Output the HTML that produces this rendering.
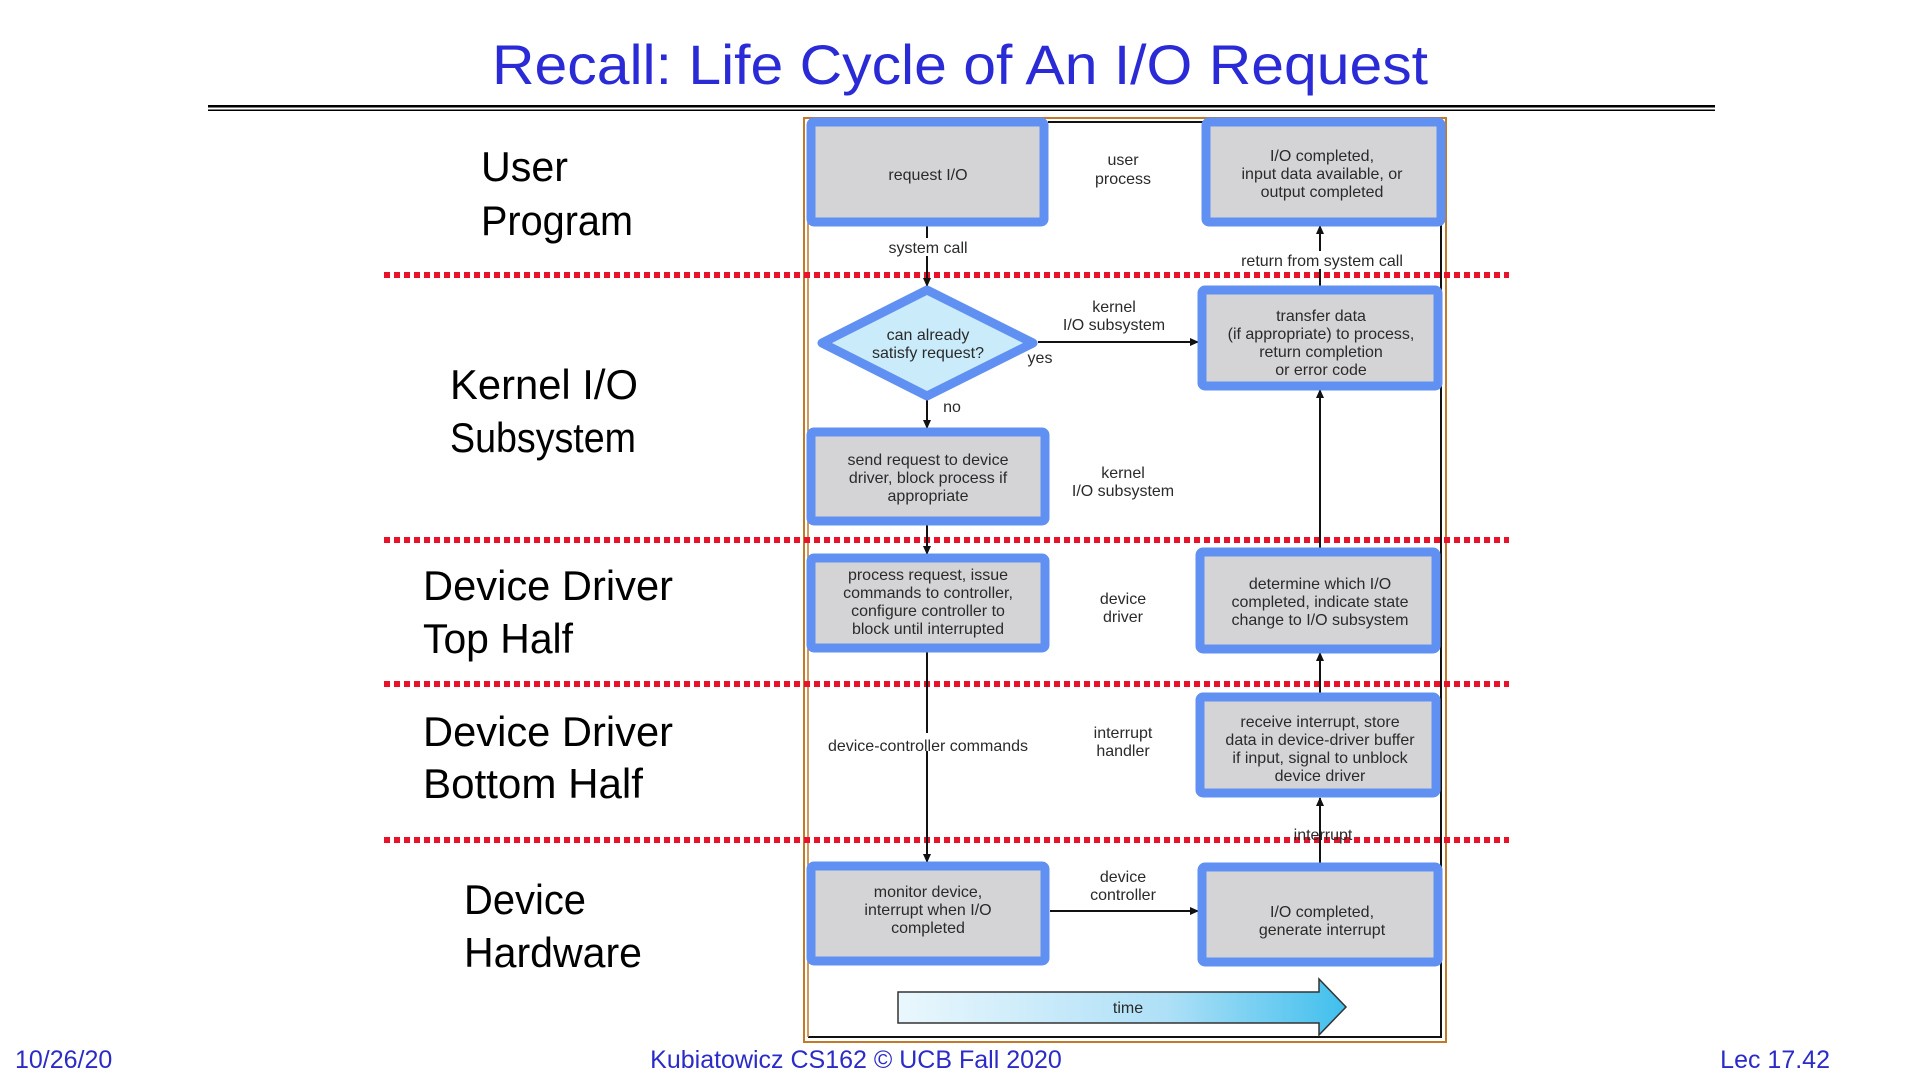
<!DOCTYPE html>
<html><head><meta charset="utf-8"><style>
html,body{margin:0;padding:0;background:#fff;width:1920px;height:1080px;overflow:hidden}
svg{display:block}
.bt{font-family:"Liberation Sans",Arial,sans-serif;font-size:16px;fill:#2a2a2a;text-anchor:middle}
.lb{font-family:"Liberation Sans",Arial,sans-serif;font-size:42px;fill:#000}
.ft{font-family:"Liberation Sans",Arial,sans-serif;font-size:25px;fill:#2b2bc8}
</style></head><body>
<svg width="1920" height="1080" viewBox="0 0 1920 1080" xmlns="http://www.w3.org/2000/svg">
<defs>
<linearGradient id="g" x1="0" x2="1" y1="0" y2="0"><stop offset="0" stop-color="#eaf7fd"/><stop offset="0.6" stop-color="#aee0f7"/><stop offset="1" stop-color="#40bfed"/></linearGradient>
<marker id="a" markerWidth="10" markerHeight="10" refX="8" refY="5" orient="auto" markerUnits="userSpaceOnUse"><path d="M0,1 L9,5 L0,9 z" fill="#111"/></marker>
</defs>
<text x="960" y="84" text-anchor="middle" font-family="Liberation Sans, Arial, sans-serif" font-size="56" fill="#2a2ad6" textLength="936" lengthAdjust="spacingAndGlyphs">Recall: Life Cycle of An I/O Request</text>
<rect x="208" y="105" width="1507" height="2.5" fill="#000"/>
<rect x="208" y="109.5" width="1507" height="1.5" fill="#000"/>

<!-- frame -->
<rect x="804" y="118" width="642" height="924" fill="none" stroke="#c07a2a" stroke-width="2"/>
<polyline points="1048,122 1441,122 1441,1037 808,1037" fill="none" stroke="#111" stroke-width="2"/>
<line x1="808" y1="122" x2="808" y2="1037" stroke="#c07a2a" stroke-width="1.5"/>

<!-- red dotted lines -->
<g stroke="#e8132a" stroke-width="6" stroke-dasharray="6 4">
<line x1="384" y1="275" x2="1509" y2="275"/>
<line x1="384" y1="540" x2="1509" y2="540"/>
<line x1="384" y1="684" x2="1509" y2="684"/>
<line x1="384" y1="840" x2="1509" y2="840"/>
</g>

<!-- left labels -->
<text class="lb" x="481" y="181" textLength="87" lengthAdjust="spacingAndGlyphs">User</text>
<text class="lb" x="481" y="235" textLength="152" lengthAdjust="spacingAndGlyphs">Program</text>
<text class="lb" x="450" y="399" textLength="188" lengthAdjust="spacingAndGlyphs">Kernel I/O</text>
<text class="lb" x="450" y="452" textLength="186" lengthAdjust="spacingAndGlyphs">Subsystem</text>
<text class="lb" x="423" y="600" textLength="250" lengthAdjust="spacingAndGlyphs">Device Driver</text>
<text class="lb" x="423" y="653" textLength="150" lengthAdjust="spacingAndGlyphs">Top Half</text>
<text class="lb" x="423" y="746" textLength="250" lengthAdjust="spacingAndGlyphs">Device Driver</text>
<text class="lb" x="423" y="798" textLength="220" lengthAdjust="spacingAndGlyphs">Bottom Half</text>
<text class="lb" x="464" y="914" textLength="122" lengthAdjust="spacingAndGlyphs">Device</text>
<text class="lb" x="464" y="967" textLength="178" lengthAdjust="spacingAndGlyphs">Hardware</text>

<!-- connectors -->
<g stroke="#111" stroke-width="2" fill="none">
<line x1="927" y1="226" x2="927" y2="286" marker-end="url(#a)"/>
<line x1="1038" y1="342" x2="1198" y2="342" marker-end="url(#a)"/>
<line x1="1320" y1="286" x2="1320" y2="226" marker-end="url(#a)"/>
<line x1="927" y1="399" x2="927" y2="428" marker-end="url(#a)"/>
<line x1="927" y1="525" x2="927" y2="554" marker-end="url(#a)"/>
<line x1="927" y1="652" x2="927" y2="862" marker-end="url(#a)"/>
<line x1="1050" y1="911" x2="1198" y2="911" marker-end="url(#a)"/>
<line x1="1320" y1="863" x2="1320" y2="798" marker-end="url(#a)"/>
<line x1="1320" y1="693" x2="1320" y2="653" marker-end="url(#a)"/>
<line x1="1320" y1="548" x2="1320" y2="390" marker-end="url(#a)"/>
</g>

<!-- boxes -->
<g fill="#d4d4d6" stroke="#6090f2" stroke-width="9">
<rect x="811" y="122" width="233" height="100" rx="3"/>
<rect x="1206" y="122" width="235" height="100" rx="3"/>
<rect x="1202" y="290" width="236" height="96" rx="3"/>
<rect x="811" y="432" width="234" height="89" rx="3"/>
<rect x="811" y="558" width="234" height="90" rx="3"/>
<rect x="1200" y="552" width="236" height="97" rx="3"/>
<rect x="1200" y="697" width="236" height="96" rx="3"/>
<rect x="811" y="866" width="234" height="95" rx="3"/>
<rect x="1202" y="867" width="236" height="95" rx="3"/>
</g>
<polygon points="927,290 1033,343 927,396 822,343" fill="#c9ebfa" stroke="#6090f2" stroke-width="9" stroke-linejoin="round"/>

<!-- box texts -->
<g class="bt">
<text x="928" y="180">request I/O</text>
<text x="1322" y="161">I/O completed,</text>
<text x="1322" y="179">input data available, or</text>
<text x="1322" y="197">output completed</text>
<text x="928" y="340">can already</text>
<text x="928" y="358">satisfy request?</text>
<text x="1321" y="321">transfer data</text>
<text x="1321" y="339">(if appropriate) to process,</text>
<text x="1321" y="357">return completion</text>
<text x="1321" y="375">or error code</text>
<text x="928" y="465">send request to device</text>
<text x="928" y="483">driver, block process if</text>
<text x="928" y="501">appropriate</text>
<text x="928" y="580">process request, issue</text>
<text x="928" y="598">commands to controller,</text>
<text x="928" y="616">configure controller to</text>
<text x="928" y="634">block until interrupted</text>
<text x="1320" y="589">determine which I/O</text>
<text x="1320" y="607">completed, indicate state</text>
<text x="1320" y="625">change to I/O subsystem</text>
<text x="1320" y="727">receive interrupt, store</text>
<text x="1320" y="745">data in device-driver buffer</text>
<text x="1320" y="763">if input, signal to unblock</text>
<text x="1320" y="781">device driver</text>
<text x="928" y="897">monitor device,</text>
<text x="928" y="915">interrupt when I/O</text>
<text x="928" y="933">completed</text>
<text x="1322" y="917">I/O completed,</text>
<text x="1322" y="935">generate interrupt</text>
</g>

<!-- connector labels -->
<rect x="885" y="238" width="86" height="18" fill="#fff"/>
<rect x="830" y="733" width="196" height="18" fill="#fff"/>
<rect x="1240" y="251" width="164" height="18" fill="#fff"/>
<g class="bt">
<text x="928" y="253">system call</text>
<text x="1322" y="266">return from system call</text>
<text x="1114" y="312">kernel</text>
<text x="1114" y="330">I/O subsystem</text>
<text x="1040" y="363">yes</text>
<text x="952" y="412">no</text>
<text x="1123" y="165">user</text>
<text x="1123" y="184">process</text>
<text x="1123" y="478">kernel</text>
<text x="1123" y="496">I/O subsystem</text>
<text x="1123" y="604">device</text>
<text x="1123" y="622">driver</text>
<text x="1123" y="738">interrupt</text>
<text x="1123" y="756">handler</text>
<text x="928" y="751">device-controller commands</text>
<text x="1323" y="840">interrupt</text>
<text x="1123" y="882">device</text>
<text x="1123" y="900">controller</text>
</g>

<!-- time arrow -->
<polygon points="898,992 1319,992 1319,979 1346,1007 1319,1035 1319,1023 898,1023" fill="url(#g)" stroke="#333" stroke-width="1.5"/>
<text class="bt" x="1128" y="1013">time</text>

<!-- footer -->
<text class="ft" x="15" y="1068">10/26/20</text>
<text class="ft" x="856" y="1068" text-anchor="middle">Kubiatowicz CS162 © UCB Fall 2020</text>
<text class="ft" x="1830" y="1068" text-anchor="end">Lec 17.42</text>
</svg>
</body></html>
